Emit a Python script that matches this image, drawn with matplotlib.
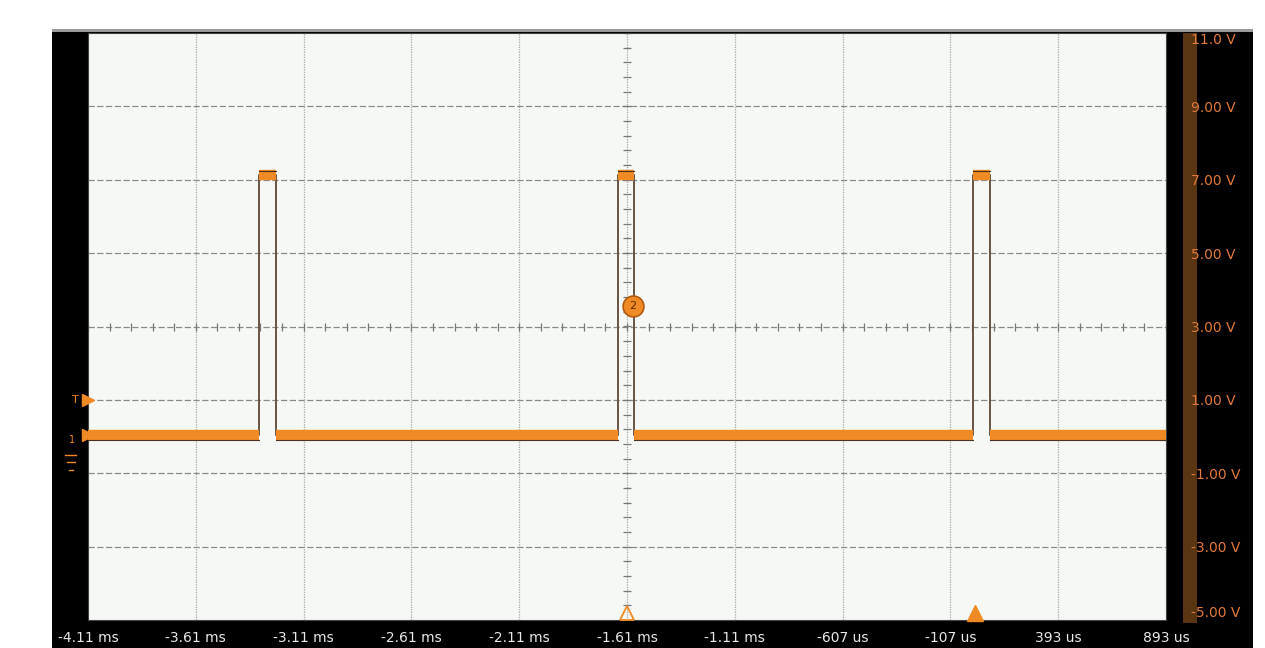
import matplotlib
matplotlib.use('Agg')
import matplotlib.pyplot as plt
from matplotlib.patches import Rectangle
import numpy as np

# ---- data (time in us, volts) ----
x_ticks = [-4107, -3607, -3107, -2607, -2107, -1607, -1107, -607, -107, 393, 893]
x_labels = ['-4.11 ms', '-3.61 ms', '-3.11 ms', '-2.61 ms', '-2.11 ms', '-1.61 ms',
            '-1.11 ms', '-607 us', '-107 us', '393 us', '893 us']
y_ticks = [11, 9, 7, 5, 3, 1, -1, -3, -5]
y_labels = ['11.0 V', '9.00 V', '7.00 V', '5.00 V', '3.00 V', '1.00 V',
            '-1.00 V', '-3.00 V', '-5.00 V']

pulse_rise = [-3314, -1649, -2]      # us
pulse_fall = [-3235, -1575, 77]      # us
low_level = 0.05
high_level = 7.12

trigger_level = 1.0
marker2_pos = (-1579, 3.57)
trigger_time = -1607
cursor_time = 7

orange = '#f08a24'
dark = '#6a5444'
W, H = 1265, 648

fig = plt.figure(figsize=(W / 100, H / 100), dpi=100)
fig.patch.set_facecolor('white')

# black instrument frame
fig.patches.append(Rectangle((52 / W, 0), 1201 / W, 618 / H, transform=fig.transFigure,
                             facecolor='black', edgecolor='none', zorder=-3))
fig.patches.append(Rectangle((52 / W, 616 / H), 1201 / W, 3 / H, transform=fig.transFigure,
                             facecolor='#9a9a9a', edgecolor='none', zorder=-3))
# brown scale bar on the right
fig.patches.append(Rectangle((1183 / W, 25 / H), 14 / W, 590 / H, transform=fig.transFigure,
                             facecolor='#5a3512', edgecolor='none', zorder=-2))

ax = fig.add_axes([88 / W, 28 / H, 1078 / W, 587 / H])
ax.set_zorder(1)
ax.set_facecolor('#f5f8f5')
ax.set_xlim(x_ticks[0], x_ticks[-1])
ax.set_ylim(-5, 11)

# graticule
for xv in x_ticks[1:-1]:
    ax.axvline(xv, color='#a8a8a8', lw=0.9, ls=(0, (1, 1)), zorder=1)
for yv in y_ticks[1:-1]:
    ax.axhline(yv, color='#8a8a8a', lw=0.9, ls=(0, (5, 2)), zorder=1)
# centre crosshair minor ticks
minor_x = np.arange(x_ticks[0], x_ticks[-1] + 1, 100)
ax.plot(minor_x, np.full(minor_x.shape, 3.0), ls='none', marker='|', ms=6,
        mew=0.9, color='#777777', zorder=1)
minor_y = np.arange(-5, 11.01, 0.4)
ax.plot(np.full(minor_y.shape, trigger_time), minor_y, ls='none', marker='_', ms=6,
        mew=0.9, color='#777777', zorder=1)

# waveform: thin dark edges
t = [x_ticks[0]]
v = [low_level]
for r, f in zip(pulse_rise, pulse_fall):
    t += [r, r, f, f]
    v += [low_level, high_level, high_level, low_level]
t.append(x_ticks[-1])
v.append(low_level)
ax.plot(t, v, color=dark, lw=1.4, zorder=3)

# thick orange flat segments
starts = [x_ticks[0]] + pulse_fall
ends = pulse_rise + [x_ticks[-1]]
for s, e in zip(starts, ends):
    ax.plot([s, e], [low_level, low_level], color=orange, lw=7.5,
            solid_capstyle='butt', zorder=4)
    ax.plot([s, e], [low_level - 0.14, low_level - 0.14], color='#4a3020',
            lw=0.8, zorder=4)
for r, f in zip(pulse_rise, pulse_fall):
    ax.plot([r, f], [high_level, high_level], color=orange, lw=7.5,
            solid_capstyle='butt', zorder=4)
    ax.plot([r, f], [high_level + 0.13, high_level + 0.13], color='#4a3020',
            lw=0.8, zorder=4)

# channel marker "2"
ax.plot(*marker2_pos, marker='o', ms=15, mfc=orange, mec='#b05a10', mew=1.2, zorder=6)
ax.text(*marker2_pos, '2', ha='center', va='center', fontsize=8, color='#5a2a00', zorder=7)

# bottom triangles
ax.plot(trigger_time, -4.8, marker='^', ms=10, mfc='none', mec=orange, mew=1.3,
        clip_on=False, zorder=6)
ax.plot(cursor_time, -4.8, marker='^', ms=11, mfc=orange, mec=orange,
        clip_on=False, zorder=6)

# left markers (trigger level and ground)
ax.plot(x_ticks[0], trigger_level, marker='>', ms=9, color=orange, clip_on=False, zorder=6)
ax.text(-0.009, trigger_level, 'T', transform=ax.get_yaxis_transform(),
        ha='right', va='center', fontsize=8, color=orange)
ax.plot(x_ticks[0], low_level, marker='>', ms=9, color=orange, clip_on=False, zorder=6)
ax.text(-0.012, low_level - 0.15, '1', transform=ax.get_yaxis_transform(),
        ha='right', va='center', fontsize=7, color=orange)
# small ground symbol drawn as three bars
ytr = ax.get_yaxis_transform()
for i, half in enumerate([0.005, 0.0035, 0.002]):
    yy = low_level - 0.55 - i * 0.2
    ax.plot([-0.016 - half, -0.016 + half], [yy, yy], color=orange, lw=1,
            transform=ytr, clip_on=False)

# axis labels
ax.set_xticks(x_ticks)
ax.set_xticklabels(x_labels, color='#e8e8e8', fontsize=10)
ax.tick_params(axis='x', length=0, pad=8)
ax.yaxis.tick_right()
ax.set_yticks(y_ticks)
ax.set_yticklabels(y_labels, color='#e07a3a', fontsize=10)
ax.tick_params(axis='y', length=0, pad=18)
for lab in ax.get_yticklabels():
    lab.set_horizontalalignment('left')
ylabs = ax.get_yticklabels()
ylabs[0].set_verticalalignment('top')
ylabs[-1].set_verticalalignment('bottom')

for sp in ax.spines.values():
    sp.set_color('#444444')
    sp.set_linewidth(0.8)

fig.savefig('out.png', dpi=100, facecolor=fig.get_facecolor())
